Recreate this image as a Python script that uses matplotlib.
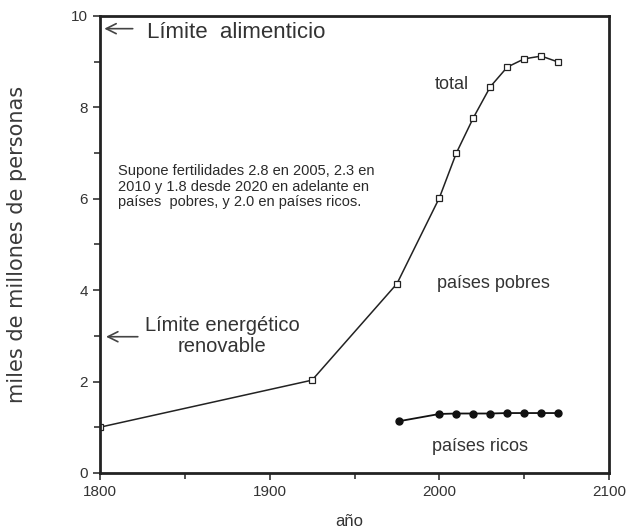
import matplotlib.pyplot as plt
from matplotlib.ticker import MultipleLocator

plt.rcParams['font.family'] = ['Liberation Sans', 'DejaVu Sans']

# poblacion total (miles de millones)
anio_total = [1800, 1925, 1975, 2000, 2010, 2020, 2030, 2040, 2050, 2060, 2070]
total = [1.0, 2.03, 4.14, 6.02, 7.0, 7.77, 8.45, 8.88, 9.06, 9.12, 8.99]

# paises ricos
anio_ricos = [1976, 2000, 2010, 2020, 2030, 2040, 2050, 2060, 2070]
ricos = [1.13, 1.29, 1.3, 1.3, 1.3, 1.31, 1.31, 1.31, 1.31]

fig = plt.figure(figsize=(6.28, 5.29), dpi=100)
ax = fig.add_axes([0.159, 0.106, 0.811, 0.864])

ax.plot(anio_total, total, color='#222222', lw=1.1, marker='s', ms=4,
        mfc='white', mec='#222222', mew=0.9)
ax.plot(anio_ricos, ricos, color='#111111', lw=1.3, marker='o', ms=5)

ax.set_xlim(1800, 2100)
ax.set_ylim(0, 10)
ax.xaxis.set_major_locator(MultipleLocator(100))
ax.xaxis.set_minor_locator(MultipleLocator(50))
ax.yaxis.set_major_locator(MultipleLocator(2))
ax.yaxis.set_minor_locator(MultipleLocator(1))
ax.tick_params(which='both', direction='out', labelsize=11, colors='#333333', width=1.2)
ax.tick_params(which='major', length=5)
ax.tick_params(which='minor', length=4)
for s in ax.spines.values():
    s.set_linewidth(2)
    s.set_color('#222222')

ax.set_xlabel('año', fontsize=12, color='#333333')
ax.xaxis.set_label_coords(0.49, -0.09)
ax.set_ylabel('miles de millones de personas', fontsize=15, color='#3a3a3a',
              family='DejaVu Sans')
ax.yaxis.set_label_coords(-0.143, 0.5)

# textos
ax.annotate('', xy=(1801, 9.72), xytext=(1821, 9.72),
            arrowprops=dict(arrowstyle='->', color='#444444', lw=1.2, mutation_scale=18))
ax.text(1828, 9.64, 'Límite  alimenticio', fontsize=16, color='#333333', va='center')
ax.annotate('', xy=(1802, 2.98), xytext=(1824, 2.98),
            arrowprops=dict(arrowstyle='->', color='#444444', lw=1.2, mutation_scale=18))
ax.text(1872, 3.0, 'Límite energético\nrenovable', fontsize=14.5, color='#333333',
        ha='center', va='center', linespacing=1.15)
ax.text(1810.6, 6.26, 'Supone fertilidades 2.8 en 2005, 2.3 en\n2010 y 1.8 desde 2020 en adelante en\n'
        'países  pobres, y 2.0 en países ricos.', fontsize=10.5, color='#2a2a2a',
        va='center', linespacing=1.15)
ax.text(2007.5, 8.49, 'total', fontsize=13, color='#333333', ha='center', va='center')
ax.text(2032, 4.14, 'países pobres', fontsize=13, color='#333333', ha='center', va='center')
ax.text(2024, 0.57, 'países ricos', fontsize=13, color='#333333', ha='center', va='center')

fig.savefig('out.png', dpi=100)
